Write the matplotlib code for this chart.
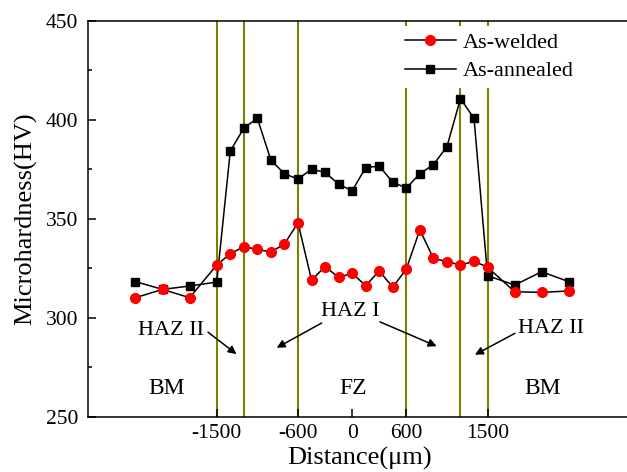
import matplotlib
matplotlib.use('Agg')
import matplotlib.pyplot as plt

plt.rcParams['font.family'] = ['Liberation Serif', 'DejaVu Serif']

# Distance from weld centre (um)
distance = [-2400, -2100, -1800, -1500, -1350, -1200, -1050, -900, -750, -600,
            -450, -300, -150, 0, 150, 300, 450, 600, 750, 900, 1050, 1200,
            1350, 1500, 1800, 2100, 2400]
as_welded = [310.1, 314.3, 310.1, 326.6, 332.3, 335.9, 334.5, 333.2, 337.2, 348.0,
             319.0, 325.8, 320.4, 322.4, 316.2, 323.6, 315.4, 324.6, 344.4, 330.0,
             328.3, 326.6, 328.5, 325.5, 313.1, 312.8, 313.5]
as_annealed = [318.2, 314.3, 316.0, 318.0, 384.1, 395.8, 400.7, 379.6, 372.7, 370.0,
               375.0, 373.4, 367.4, 364.1, 375.8, 376.6, 368.4, 365.5, 372.7, 377.3,
               386.4, 410.6, 400.7, 321.2, 316.5, 323.2, 318.2]

# zone boundaries
boundaries = [-1500, -1200, -600, 600, 1200, 1500]
xticks = [-1500, -600, 0, 600, 1500]

fig = plt.figure(figsize=(6.27, 4.72), dpi=100)
ax = fig.add_axes([88 / 627, 55.3 / 472, 544 / 627, 396 / 472])

for b in boundaries:
    ax.axvline(b, color='#808000', lw=1.5, zorder=1)

la, = ax.plot(distance, as_annealed, color='black', lw=1.1, marker='s',
              markersize=6, zorder=3, label='As-annealed')
lw_, = ax.plot(distance, as_welded, color='black', lw=1.1, marker='o',
               markersize=7, markerfacecolor='red', markeredgecolor='red',
               zorder=4, label='As-welded')

ax.set_xlim(-2926, 3100)
ax.set_ylim(250, 450)
ax.set_xticks(xticks)
ax.set_xticklabels([str(t) for t in xticks])
ax.set_yticks([250, 300, 350, 400, 450])
ax.set_yticks([275, 325, 375, 425], minor=True)
ax.tick_params(axis='both', which='major', direction='in', length=6, width=1.1,
               labelsize=15.5)
ax.tick_params(axis='y', which='minor', direction='in', length=3, width=1.1)
ax.tick_params(axis='y', pad=7)
ax.tick_params(axis='x', pad=5)
for s in ax.spines.values():
    s.set_linewidth(1.1)

ax.set_xlabel('Distance(μm)', fontsize=19, labelpad=3)
ax.set_ylabel('Microhardness(HV)', fontsize=19, labelpad=6)

# zone labels
ax.text(-2006, 293.7, 'HAZ II', fontsize=16, ha='center', va='center')
ax.text(-24, 303, 'HAZ I', fontsize=16, ha='center', va='center')
ax.text(2201, 294.6, 'HAZ II', fontsize=16, ha='center', va='center')
ax.text(-2054, 264.3, 'BM', fontsize=17, ha='center', va='center')
ax.text(9, 264.4, 'FZ', fontsize=17, ha='center', va='center')
ax.text(2113, 264.4, 'BM', fontsize=17, ha='center', va='center')

arrow = dict(arrowstyle='-|>', color='black', lw=1.1, mutation_scale=12,
             shrinkA=0, shrinkB=0)
ax.annotate('', xy=(-1281, 281.6), xytext=(-1597, 292.7), arrowprops=arrow)
ax.annotate('', xy=(-836, 284.8), xytext=(-338, 297.3), arrowprops=arrow)
ax.annotate('', xy=(936, 285.6), xytext=(308, 297.9), arrowprops=arrow)
ax.annotate('', xy=(1360, 281.3), xytext=(1803, 292.1), arrowprops=arrow)

leg = ax.legend(handles=[lw_, la], loc='upper left',
                bbox_to_anchor=(0.57, 0.987), borderaxespad=0, borderpad=0.3,
                frameon=True, fancybox=False, edgecolor='none', facecolor='white',
                framealpha=1, fontsize=16, handlelength=2.3, handletextpad=0.3,
                labelspacing=0.35, numpoints=1)
leg.set_zorder(5)

fig.savefig('out.png', dpi=100)
